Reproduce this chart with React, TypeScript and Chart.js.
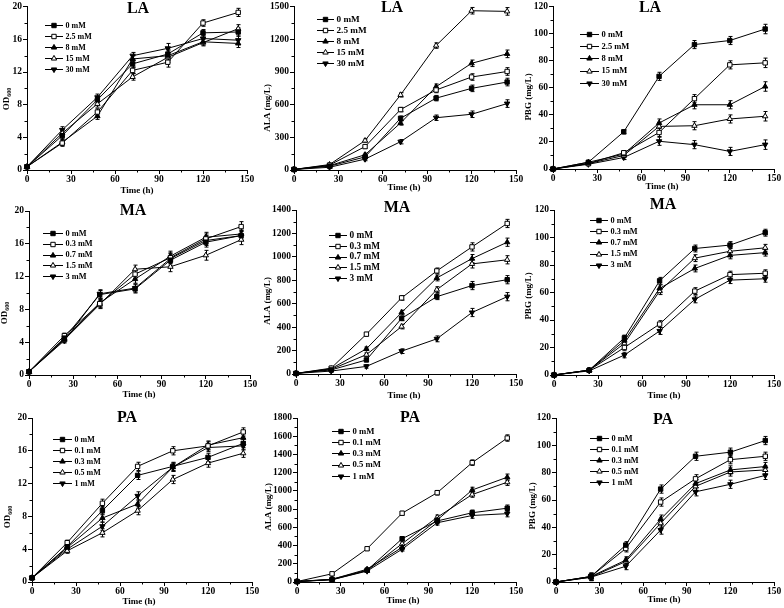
import React, { useEffect, useRef } from "react";
import { Chart, registerables } from "chart.js";

Chart.register(...registerables);

// ---------- data ----------
const TIME_H = [0, 24, 48, 72, 96, 120, 144];
const X_TICK_STEP = 30;

const LA_CONC = ["0 mM", "2.5 mM", "8 mM", "15 mM", "30 mM"];
const MA_CONC = ["0 mM", "0.3 mM", "0.7 mM", "1.5 mM", "3 mM"];
const PA_CONC = ["0 mM", "0.1 mM", "0.3 mM", "0.5 mM", "1 mM"];

// LA – OD600
const LA_OD_0 = [0.4, 4.2, 8.6, 13.0, 14.2, 16.8, 16.9];
const LA_OD_2_5 = [0.4, 3.3, 7.1, 12.2, 13.2, 18.0, 19.3];
const LA_OD_8 = [0.4, 3.4, 6.6, 13.6, 14.0, 15.7, 15.5];
const LA_OD_15 = [0.4, 4.5, 8.1, 11.4, 13.8, 15.6, 17.3];
const LA_OD_30 = [0.4, 4.9, 8.9, 14.0, 14.9, 16.1, 15.9];
const LA_OD_ERR = [0.1, 0.4, 0.4, 0.4, 0.6, 0.4, 0.5];

// LA – ALA (mg/L)
const LA_ALA_0 = [5, 35, 120, 475, 660, 750, 808];
const LA_ALA_2_5 = [5, 45, 215, 555, 735, 854, 905];
const LA_ALA_8 = [5, 40, 140, 432, 765, 980, 1067];
const LA_ALA_15 = [5, 50, 270, 690, 1143, 1463, 1457];
const LA_ALA_30 = [5, 25, 100, 260, 480, 512, 610];
const LA_ALA_ERR = [5, 10, 15, 20, 25, 30, 35];

// LA – PBG (mg/L)
const LA_PBG_0 = [0, 5, 27.5, 68.5, 92, 95, 103.5];
const LA_PBG_2_5 = [0, 4, 12, 27, 52, 77, 78.5];
const LA_PBG_8 = [0, 5, 11, 34, 47.5, 47.5, 61];
const LA_PBG_15 = [0, 4, 10, 31.5, 32, 37, 39];
const LA_PBG_30 = [0, 3.5, 8.5, 20.5, 18, 13, 18];
const LA_PBG_ERR = [0.5, 1, 1.5, 3, 3, 3, 3.5];

// MA – OD600
const MA_OD_0 = [0.4, 4.5, 9.8, 10.5, 14.0, 16.2, 17.0];
const MA_OD_0_3 = [0.4, 4.8, 8.7, 12.3, 14.3, 16.6, 18.1];
const MA_OD_0_7 = [0.4, 4.4, 8.8, 11.7, 14.5, 16.8, 17.2];
const MA_OD_1_5 = [0.4, 4.3, 8.6, 12.9, 13.2, 14.6, 16.5];
const MA_OD_3 = [0.4, 4.2, 9.9, 10.6, 14.2, 16.4, 17.0];
const MA_OD_ERR = [0.1, 0.3, 0.5, 0.5, 0.6, 0.6, 0.6];

// MA – ALA (mg/L)
const MA_ALA_0 = [5, 35, 120, 475, 660, 755, 805];
const MA_ALA_0_3 = [5, 50, 340, 650, 880, 1085, 1285];
const MA_ALA_0_7 = [5, 45, 215, 525, 820, 985, 1125];
const MA_ALA_1_5 = [5, 40, 165, 405, 720, 940, 975];
const MA_ALA_3 = [5, 25, 65, 195, 300, 525, 660];
const MA_ALA_ERR = [5, 10, 15, 20, 25, 35, 35];

// MA – PBG (mg/L)
const MA_PBG_0 = [0, 3.5, 27, 68.5, 92, 94.5, 103.5];
const MA_PBG_0_3 = [0, 3.5, 20, 37, 61, 73, 74];
const MA_PBG_0_7 = [0, 3.5, 25, 63, 77.5, 87, 89];
const MA_PBG_1_5 = [0, 3.5, 23, 61, 85, 90, 92.5];
const MA_PBG_3 = [0, 3, 14.5, 32, 55, 69, 70];
const MA_PBG_ERR = [0.5, 1, 2, 2.5, 2.5, 2.5, 2.5];

// PA – OD600
const PA_OD_0 = [0.5, 4.3, 8.7, 13.0, 14.1, 15.2, 16.9];
const PA_OD_0_1 = [0.5, 4.8, 9.6, 14.1, 16.0, 16.6, 18.3];
const PA_OD_0_3 = [0.5, 4.2, 7.8, 9.5, 14.0, 16.7, 17.6];
const PA_OD_0_5 = [0.5, 3.8, 6.0, 8.7, 12.5, 14.5, 15.7];
const PA_OD_1 = [0.5, 4.0, 6.8, 10.5, 14.0, 16.4, 16.6];
const PA_OD_ERR = [0.1, 0.3, 0.5, 0.5, 0.5, 0.5, 0.5];

// PA – ALA (mg/L)
const PA_ALA_0 = [5, 30, 130, 475, 670, 760, 810];
const PA_ALA_0_1 = [5, 90, 365, 755, 980, 1310, 1580];
const PA_ALA_0_3 = [5, 30, 140, 380, 680, 1010, 1150];
const PA_ALA_0_5 = [5, 25, 125, 420, 710, 960, 1095];
const PA_ALA_1 = [5, 25, 120, 360, 650, 730, 750];
const PA_ALA_ERR = [5, 10, 15, 20, 25, 30, 35];

// PA – PBG (mg/L)
const PA_PBG_0 = [0, 4, 27, 68, 92, 95, 103.5];
const PA_PBG_0_1 = [0, 4, 24.5, 58.5, 75.5, 89.5, 92];
const PA_PBG_0_3 = [0, 4, 16, 46, 72, 82, 84.5];
const PA_PBG_0_5 = [0, 3.5, 15, 43, 70, 80.5, 82];
const PA_PBG_1 = [0, 3.5, 11.5, 38, 66, 71.5, 78];
const PA_PBG_ERR = [0.5, 2.5, 2.5, 3, 3, 3, 3];

// ---------- layout / style ----------
const SERIF = '"Liberation Serif", "Times New Roman", serif';
const COL_LEFT = [0, 258, 518];
const COL_W = [270, 270, 266];
const ROW_TOP = [0, 196, 398];
const ROW_H = [210, 210, 210];

type Panel = {
  title: string;
  yTitle: string;
  sub?: string;
  yMax: number;
  yStep: number;
  labels: string[];
  series: number[][];
  err: number[];
  col: number;
  row: number;
  area: { x0: number; x1: number; y0: number; y1: number };
  titlePos: [number, number];
  yTitlePos: [number, number];
  xTitlePos: [number, number];
  legend: { x: number; y: number; dy: number; len: number; fs: number };
};

const PANELS: Panel[] = [
  {
    title: "LA", yTitle: "OD", sub: "600", yMax: 20, yStep: 4, labels: LA_CONC,
    series: [LA_OD_0, LA_OD_2_5, LA_OD_8, LA_OD_15, LA_OD_30], err: LA_OD_ERR,
    col: 0, row: 0, area: { x0: 27, x1: 247, y0: 6, y1: 170 },
    titlePos: [138, 9], yTitlePos: [7, 99], xTitlePos: [137, 190.5],
    legend: { x: 45, y: 25, dy: 11, len: 18, fs: 8 },
  },
  {
    title: "LA", yTitle: "ALA (mg/L)", yMax: 1500, yStep: 300, labels: LA_CONC,
    series: [LA_ALA_0, LA_ALA_2_5, LA_ALA_8, LA_ALA_15, LA_ALA_30], err: LA_ALA_ERR,
    col: 1, row: 0, area: { x0: 294, x1: 516, y0: 6, y1: 170 },
    titlePos: [392, 8], yTitlePos: [268, 108], xTitlePos: [404, 188],
    legend: { x: 317, y: 19, dy: 11, len: 17, fs: 9.2 },
  },
  {
    title: "LA", yTitle: "PBG (mg/L)", yMax: 120, yStep: 20, labels: LA_CONC,
    series: [LA_PBG_0, LA_PBG_2_5, LA_PBG_8, LA_PBG_15, LA_PBG_30], err: LA_PBG_ERR,
    col: 2, row: 0, area: { x0: 553, x1: 774, y0: 5, y1: 169 },
    titlePos: [650, 8], yTitlePos: [529, 97], xTitlePos: [662, 187],
    legend: { x: 580, y: 34, dy: 12.2, len: 19, fs: 8.5 },
  },
  {
    title: "MA", yTitle: "OD", sub: "600", yMax: 20, yStep: 4, labels: MA_CONC,
    series: [MA_OD_0, MA_OD_0_3, MA_OD_0_7, MA_OD_1_5, MA_OD_3], err: MA_OD_ERR,
    col: 0, row: 1, area: { x0: 29, x1: 250, y0: 211, y1: 375 },
    titlePos: [133, 211], yTitlePos: [5, 313], xTitlePos: [139, 395],
    legend: { x: 43, y: 233, dy: 10.8, len: 20, fs: 8.3 },
  },
  {
    title: "MA", yTitle: "ALA (mg/L)", yMax: 1400, yStep: 200, labels: MA_CONC,
    series: [MA_ALA_0, MA_ALA_0_3, MA_ALA_0_7, MA_ALA_1_5, MA_ALA_3], err: MA_ALA_ERR,
    col: 1, row: 1, area: { x0: 296, x1: 516, y0: 210, y1: 374 },
    titlePos: [397, 208], yTitlePos: [268, 301], xTitlePos: [404, 396],
    legend: { x: 329, y: 235, dy: 10.8, len: 18, fs: 9.3 },
  },
  {
    title: "MA", yTitle: "PBG (mg/L)", yMax: 120, yStep: 20, labels: MA_CONC,
    series: [MA_PBG_0, MA_PBG_0_3, MA_PBG_0_7, MA_PBG_1_5, MA_PBG_3], err: MA_PBG_ERR,
    col: 2, row: 1, area: { x0: 554, x1: 774, y0: 210, y1: 375 },
    titlePos: [663, 205], yTitlePos: [529, 296], xTitlePos: [664, 396],
    legend: { x: 590, y: 220, dy: 11.2, len: 18, fs: 8.3 },
  },
  {
    title: "PA", yTitle: "OD", sub: "600", yMax: 20, yStep: 4, labels: PA_CONC,
    series: [PA_OD_0, PA_OD_0_1, PA_OD_0_3, PA_OD_0_5, PA_OD_1], err: PA_OD_ERR,
    col: 0, row: 2, area: { x0: 32, x1: 252, y0: 418, y1: 582 },
    titlePos: [127, 418], yTitlePos: [8, 517], xTitlePos: [139, 602],
    legend: { x: 53, y: 439, dy: 11, len: 19, fs: 8 },
  },
  {
    title: "PA", yTitle: "ALA (mg/L)", yMax: 1800, yStep: 200, labels: PA_CONC,
    series: [PA_ALA_0, PA_ALA_0_1, PA_ALA_0_3, PA_ALA_0_5, PA_ALA_1], err: PA_ALA_ERR,
    col: 1, row: 2, area: { x0: 297, x1: 516, y0: 418, y1: 582 },
    titlePos: [410, 418], yTitlePos: [269, 507], xTitlePos: [403, 601],
    legend: { x: 332, y: 431, dy: 11.2, len: 18, fs: 8.7 },
  },
  {
    title: "PA", yTitle: "PBG (mg/L)", yMax: 120, yStep: 20, labels: PA_CONC,
    series: [PA_PBG_0, PA_PBG_0_1, PA_PBG_0_3, PA_PBG_0_5, PA_PBG_1], err: PA_PBG_ERR,
    col: 2, row: 2, area: { x0: 556, x1: 774, y0: 418, y1: 582 },
    titlePos: [663, 420], yTitlePos: [533, 506], xTitlePos: [664, 600],
    legend: { x: 590, y: 438, dy: 11, len: 19, fs: 8.3 },
  },
];

const MARKERS = [
  { style: "rect", fill: true },
  { style: "rect", fill: false },
  { style: "up", fill: true },
  { style: "up", fill: false },
  { style: "down", fill: true },
];
const POINT_R = 3.1;

function drawMarker(ctx: CanvasRenderingContext2D, idx: number, x: number, y: number, r: number) {
  const m = MARKERS[idx];
  ctx.beginPath();
  if (m.style === "rect") {
    const s = r * Math.SQRT1_2;
    ctx.rect(x - s, y - s, 2 * s, 2 * s);
  } else {
    let a = m.style === "down" ? Math.PI : 0;
    for (let k = 0; k < 3; k++) {
      const px = x + Math.sin(a) * r;
      const py = y - Math.cos(a) * r;
      if (k === 0) ctx.moveTo(px, py);
      else ctx.lineTo(px, py);
      a += (2 * Math.PI) / 3;
    }
    ctx.closePath();
  }
  ctx.fillStyle = m.fill ? "#000" : "#fff";
  ctx.fill();
  ctx.lineWidth = 1;
  ctx.strokeStyle = "#000";
  ctx.stroke();
}

function makeChart(canvas: HTMLCanvasElement, p: Panel) {
  const left = COL_LEFT[p.col];
  const top = ROW_TOP[p.row];
  const w = COL_W[p.col];
  const h = ROW_H[p.row];
  const yw = p.area.x0 - left;
  const xh = top + h - p.area.y1;
  const padTop = p.area.y0 - top;
  const padRight = left + w - p.area.x1;

  const datasets = p.series.map((vals, si) => ({
    label: p.labels[si],
    data: TIME_H.map((t, i) => ({ x: t, y: vals[i] })),
    borderColor: "#000",
    borderWidth: 1,
    pointStyle: MARKERS[si].style === "rect" ? "rect" : "triangle",
    pointRotation: MARKERS[si].style === "down" ? 180 : 0,
    pointRadius: POINT_R,
    pointBorderWidth: 1,
    pointBorderColor: "#000",
    pointBackgroundColor: MARKERS[si].fill ? "#000" : "#fff",
    tension: 0,
    clip: 12,
  }));

  const deco = {
    id: "deco",
    beforeDatasetsDraw(chart: any) {
      const ctx: CanvasRenderingContext2D = chart.ctx;
      const ys = chart.scales.y;
      ctx.save();
      ctx.strokeStyle = "#000";
      ctx.lineWidth = 1;
      chart.data.datasets.forEach((ds: any, di: number) => {
        const meta = chart.getDatasetMeta(di);
        meta.data.forEach((pt: any, i: number) => {
          const v = ds.data[i].y;
          const e = p.err[i];
          const yt = ys.getPixelForValue(v + e);
          const yb = ys.getPixelForValue(Math.max(0, v - e));
          const x = Math.round(pt.x) + 0.5;
          ctx.beginPath();
          ctx.moveTo(x, yt);
          ctx.lineTo(x, yb);
          ctx.moveTo(x - 2, yt);
          ctx.lineTo(x + 2, yt);
          ctx.moveTo(x - 2, yb);
          ctx.lineTo(x + 2, yb);
          ctx.stroke();
        });
      });
      ctx.restore();
    },
    afterDraw(chart: any) {
      const ctx: CanvasRenderingContext2D = chart.ctx;
      const ca = chart.chartArea;
      const xs = chart.scales.x;
      const ys = chart.scales.y;
      ctx.save();
      ctx.strokeStyle = "#000";
      ctx.lineWidth = 1;
      // minor ticks
      ctx.beginPath();
      for (let i = 0; i < xs.ticks.length - 1; i++) {
        const mid = (xs.ticks[i].value + xs.ticks[i + 1].value) / 2;
        const px = Math.round(xs.getPixelForValue(mid)) + 0.5;
        ctx.moveTo(px, ca.bottom);
        ctx.lineTo(px, ca.bottom + 2.5);
      }
      for (let i = 0; i < ys.ticks.length - 1; i++) {
        const mid = (ys.ticks[i].value + ys.ticks[i + 1].value) / 2;
        const py = Math.round(ys.getPixelForValue(mid)) + 0.5;
        ctx.moveTo(ca.left, py);
        ctx.lineTo(ca.left - 2.5, py);
      }
      ctx.stroke();

      ctx.fillStyle = "#000";
      // panel title
      ctx.font = `bold 16px ${SERIF}`;
      ctx.textAlign = "center";
      ctx.textBaseline = "middle";
      ctx.fillText(p.title, p.titlePos[0] - left, p.titlePos[1] - top);

      // x title
      ctx.font = `bold 9px ${SERIF}`;
      ctx.fillText("Time (h)", p.xTitlePos[0] - left, p.xTitlePos[1] - top);

      // y title (rotated)
      ctx.save();
      ctx.translate(p.yTitlePos[0] - left, p.yTitlePos[1] - top);
      ctx.rotate(-Math.PI / 2);
      if (p.sub) {
        ctx.font = `bold 9px ${SERIF}`;
        const mw = ctx.measureText(p.yTitle).width;
        ctx.font = `bold 6px ${SERIF}`;
        const sw = ctx.measureText(p.sub).width;
        const start = -(mw + sw) / 2;
        ctx.textAlign = "left";
        ctx.font = `bold 9px ${SERIF}`;
        ctx.fillText(p.yTitle, start, 0);
        ctx.font = `bold 6px ${SERIF}`;
        ctx.fillText(p.sub, start + mw, 2.5);
      } else {
        ctx.font = `bold 9px ${SERIF}`;
        ctx.fillText(p.yTitle, 0, 0);
      }
      ctx.restore();

      // legend
      const lg = p.legend;
      ctx.font = `bold ${lg.fs}px ${SERIF}`;
      ctx.textAlign = "left";
      ctx.textBaseline = "middle";
      p.labels.forEach((lab, i) => {
        const y = lg.y - top + i * lg.dy;
        const x0 = lg.x - left;
        const x1 = x0 + lg.len;
        ctx.beginPath();
        ctx.moveTo(x0, Math.round(y) + 0.5);
        ctx.lineTo(x1, Math.round(y) + 0.5);
        ctx.strokeStyle = "#000";
        ctx.lineWidth = 1;
        ctx.stroke();
        drawMarker(ctx, i, (x0 + x1) / 2, Math.round(y) + 0.5, POINT_R);
        ctx.fillStyle = "#000";
        ctx.fillText(lab, x1 + 2.5, y + 0.5);
      });
      ctx.restore();
    },
  };

  const tickFont = { family: SERIF, size: 9.5, weight: "bold" as const };
  const plain = (v: any) => String(v);

  return new Chart(canvas, {
    type: "line",
    data: { datasets: datasets as any },
    options: {
      animation: false,
      responsive: false,
      devicePixelRatio: 1,
      layout: { padding: { top: padTop, right: padRight, left: 0, bottom: 0 } },
      plugins: { legend: { display: false }, tooltip: { enabled: false }, title: { display: false } },
      scales: {
        x: {
          type: "linear",
          min: 0,
          max: 150,
          ticks: { stepSize: X_TICK_STEP, font: tickFont, color: "#000", padding: 0, maxRotation: 0, autoSkip: false, callback: plain },
          grid: { display: true, drawOnChartArea: false, drawTicks: true, tickLength: 4, color: "#000" },
          border: { display: true, color: "#000", width: 1 },
          afterFit: (s: any) => {
            s.height = xh;
          },
        },
        y: {
          type: "linear",
          min: 0,
          max: p.yMax,
          ticks: { stepSize: p.yStep, font: tickFont, color: "#000", padding: 1, autoSkip: false, callback: plain },
          grid: { display: true, drawOnChartArea: false, drawTicks: true, tickLength: 4, color: "#000" },
          border: { display: true, color: "#000", width: 1 },
          afterFit: (s: any) => {
            s.width = yw;
          },
        },
      },
    } as any,
    plugins: [deco as any],
  });
}

function PanelChart({ p }: { p: Panel }) {
  const ref = useRef<HTMLCanvasElement | null>(null);
  useEffect(() => {
    if (!ref.current) return;
    const c = makeChart(ref.current, p);
    return () => c.destroy();
  }, [p]);
  const left = COL_LEFT[p.col];
  const top = ROW_TOP[p.row];
  return (
    <div style={{ position: "absolute", left, top, width: COL_W[p.col], height: ROW_H[p.row] }}>
      <canvas ref={ref} width={COL_W[p.col]} height={ROW_H[p.row]} style={{ display: "block" }} />
    </div>
  );
}

export default function App() {
  return (
    <div
      style={{
        position: "absolute",
        left: 0,
        top: 0,
        width: 784,
        height: 608,
        overflow: "hidden",
        background: "#fff",
      }}
    >
      {PANELS.map((p, i) => (
        <PanelChart key={i} p={p} />
      ))}
    </div>
  );
}
